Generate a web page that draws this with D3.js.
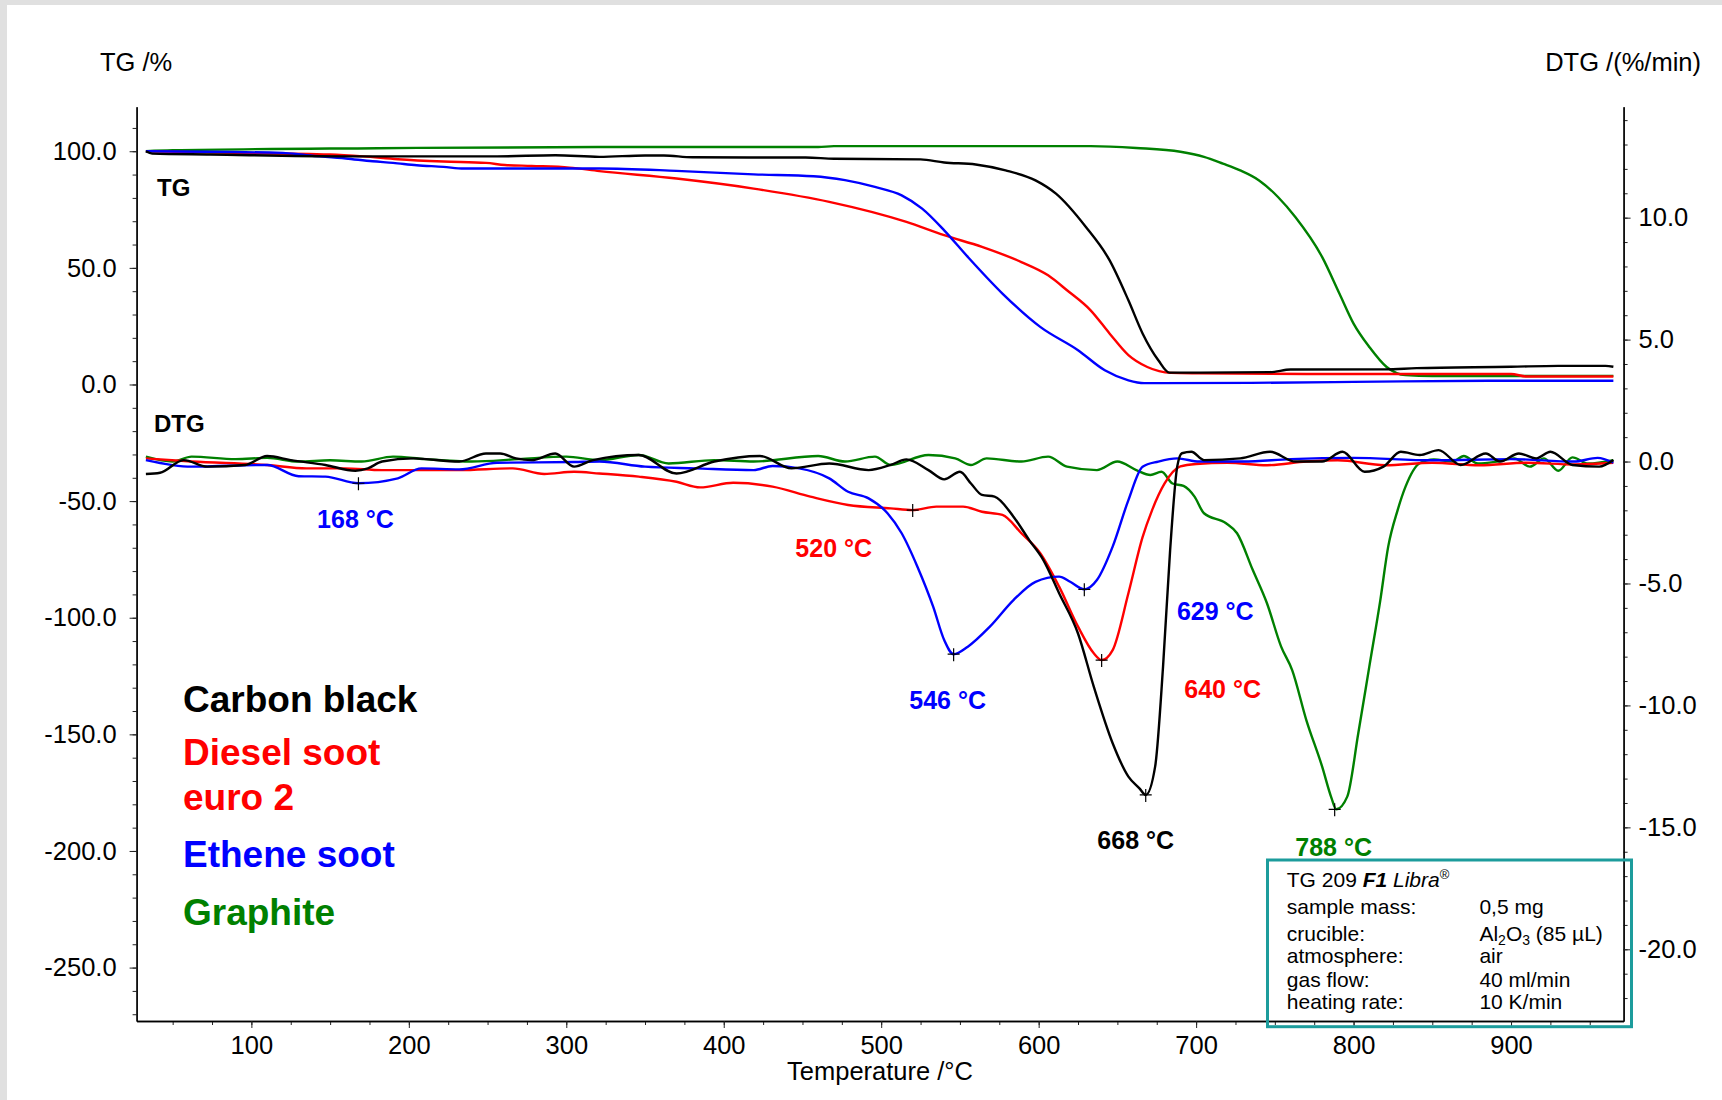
<!DOCTYPE html>
<html>
<head>
<meta charset="utf-8">
<script src="https://cdn.jsdelivr.net/npm/d3@7"></script>
<style>
  html, body { margin: 0; padding: 0; background: #e0e0e0; }
  svg { display: block; }
  text { font-family: "Liberation Sans", Arial, sans-serif; }
</style>
</head>
<body>
<div class="chart-container"></div>
<script>
//! DATA  (temperature °C, value)
const tgCarbon = [[33,100],[37,99],[74,98.6],[159,97.8],[256,97.8],[293,98.3],[321,97.6],[350,98.2],[362,98.2],[380,97.4],[452,97.3],[470,96.8],[525,96.5],[540,95.2],[560,94.3],[579,91.8],[598,87.5],[611,81.8],[630,67.5],[645,53.3],[657,36.1],[666,21.9],[676,10.4],[683,5.1],[700,5.1],[747,5.3],[760,6.4],[820,6.5],[840,7.0],[900,7.6],[930,8.0],[960,8.0],[965,7.6]];
const tgDiesel = [[33,100],[80,99.4],[150,98.6],[171,97.8],[193,96.6],[222,95.6],[249,95.0],[261,94.1],[278,93.7],[302,93.0],[321,91.5],[370,88.3],[419,84.0],[467,78.3],[516,69.7],[540,64.0],[564,59.0],[589,52.5],[606,46.8],[618,40.4],[633,31.8],[645,21.9],[657,12.6],[669,7.5],[684,5.0],[702,4.8],[770,4.5],[900,4.5],[910,3.4],[965,3.4]];
const tgEthene = [[33,100],[120,99.3],[135,98.3],[160,96.9],[177,95.7],[190,95.0],[205,94.0],[222,93.3],[235,92.6],[321,92.6],[370,91.6],[419,90.1],[457,89.3],[477,87.6],[496,84.7],[513,81.1],[526,75.4],[540,66.1],[555,54.7],[577,39.0],[601,24.7],[625,14.7],[642,6.1],[657,1.8],[667,0.6],[735,0.7],[800,1.1],[890,1.6],[965,1.6]];
const tgGraphite = [[33,100],[50,100.4],[180,101.3],[321,101.8],[460,101.8],[470,102.2],[633,102.2],[662,101.4],[690,99.8],[705,97.6],[717,94.7],[728,91.8],[740,87.5],[752,80.4],[763,71.8],[780,54.7],[791,39.0],[800,26.1],[810,16.1],[821,7.5],[833,4.0],[850,3.6],[965,3.7]];

const dtgCarbon = [[33,-0.51],[42,-0.46],[57,0.06],[72,-0.21],[96,-0.14],[110,0.23],[125,0.06],[147,-0.14],[166,-0.38],[174,-0.28],[183,0.0],[203,0.13],[232,0.0],[249,0.33],[258,0.33],[268,0.13],[278,0.06],[293,0.33],[305,-0.21],[317,0.06],[346,0.27],[370,-0.49],[394,0.0],[423,0.23],[443,-0.28],[467,-0.08],[492,-0.35],[506,-0.14],[516,0.09],[530,-0.35],[540,-0.73],[550,-0.42],[557,-0.9],[564,-1.37],[572,-1.44],[584,-2.26],[594,-3.22],[603,-4.04],[613,-5.4],[625,-7.05],[635,-9.23],[647,-11.55],[657,-12.92],[664,-13.4],[668,-13.67],[674,-12.5],[679,-8.41],[683.5,-3.63],[688,-0.21],[691,0.34],[697,0.4],[705,0.06],[728,0.13],[747,0.4],[763,0.0],[780,0.0],[793,0.4],[807,-0.42],[819,-0.21],[830,0.4],[842,0.27],[854,0.47],[868,-0.14],[884,0.33],[893,0.0],[905,0.33],[916,0.13],[925,0.4],[939,-0.14],[956,-0.21],[965,0.06]];
const dtgDiesel = [[33,0.13],[62,0.0],[110,-0.14],[135,-0.28],[159,-0.28],[183,-0.35],[232,-0.35],[266,-0.28],[286,-0.51],[305,-0.42],[321,-0.49],[346,-0.62],[370,-0.83],[385,-1.06],[406,-0.87],[431,-1.03],[455,-1.44],[479,-1.78],[506,-1.92],[520,-1.99],[535,-1.85],[552,-1.85],[564,-2.06],[577,-2.19],[589,-2.94],[601,-3.76],[613,-5.13],[625,-6.77],[635,-7.86],[640,-8.14],[647,-7.73],[657,-5.4],[666,-3.1],[672,-2.0],[680,-0.9],[690,-0.2],[700,-0.1],[720,-0.05],[745,-0.15],[770,0.0],[790,0.05],[820,-0.15],[850,-0.05],[880,-0.15],[910,-0.05],[940,-0.12],[965,-0.05]];
const dtgEthene = [[33,0.06],[62,-0.21],[110,-0.14],[130,-0.6],[147,-0.62],[168,-0.89],[193,-0.69],[208,-0.28],[232,-0.32],[256,-0.05],[305,-0.02],[321,0.0],[350,-0.21],[382,-0.28],[419,-0.35],[431,-0.18],[448,-0.28],[467,-0.69],[479,-1.24],[492,-1.51],[504,-2.12],[513,-2.94],[523,-4.31],[533,-5.95],[540,-7.32],[546,-7.9],[555,-7.59],[569,-6.77],[584,-5.68],[598,-4.93],[613,-4.72],[620,-4.93],[629,-5.24],[637,-4.86],[647,-3.49],[657,-1.58],[666,-0.21],[676,0.0],[688,0.13],[702,0.0],[730,0.0],[760,0.1],[800,0.15],[850,0.05],[900,0.1],[940,0.0],[955,0.15],[965,-0.05]];
const dtgGraphite = [[33,0.2],[50,0.0],[62,0.2],[90,0.1],[110,0.15],[130,0.0],[150,0.05],[170,0.0],[190,0.2],[210,0.1],[240,0.0],[270,0.1],[300,0.2],[321,0.06],[346,0.27],[365,-0.08],[394,0.06],[419,0.0],[460,0.23],[477,0.0],[496,0.2],[506,-0.14],[530,0.27],[547,0.13],[557,-0.14],[567,0.13],[589,0.0],[606,0.2],[618,-0.21],[637,-0.35],[650,0.0],[662,-0.35],[671,-0.55],[678,-0.42],[685,-0.9],[692,-1.0],[699,-1.44],[705,-2.12],[719,-2.53],[726,-2.94],[736,-4.45],[745,-5.81],[754,-7.59],[761,-8.55],[770,-10.6],[780,-12.5],[786,-13.8],[789,-14.26],[796,-13.74],[803,-11.14],[810,-8.41],[817,-5.68],[822,-3.49],[828,-1.99],[833,-1.03],[842,-0.07],[851,0.09],[863,0.0],[870,0.23],[879,-0.08],[891,0.0],[902,0.13],[912,-0.21],[921,0.13],[930,-0.38],[939,0.17],[949,-0.08],[965,0.06]];

// DTG peaks
const peakTemps = [168, 520, 546, 629, 640, 668, 788];
const peakValues = [-0.89, -1.99, -7.9, -5.24, -8.14, -13.67, -14.26];
const peakSeries = ['ethene', 'diesel', 'ethene', 'ethene', 'diesel', 'carbon', 'graphite'];

const legendNames = ['Carbon black', 'Diesel soot', 'euro 2', 'Ethene soot', 'Graphite'];
const legendSeries = ['carbon', 'diesel', 'diesel', 'ethene', 'graphite'];

const xTicks = [100, 200, 300, 400, 500, 600, 700, 800, 900];
const tgTicks = [100, 50, 0, -50, -100, -150, -200, -250];
const dtgTicks = [10, 5, 0, -5, -10, -15, -20];

const infoLabels = ['sample mass:', 'crucible:', 'atmosphere:', 'gas flow:', 'heating rate:'];
const infoValues = ['0,5 mg', 'Al2O3 (85 µL)', 'air', '40 ml/min', '10 K/min'];

//! CONSTS
const width = 1722;
const height = 1100;
const plotLeft = 136.6, plotRight = 1623.6, plotTop = 106.7, plotBottom = 1021;
const colors = { carbon: '#000000', diesel: '#ff0000', ethene: '#0000ff', graphite: '#008000' };
const font = '"Liberation Sans", Arial, sans-serif';
const fmt = (d) => d.toFixed(1); // plain hyphen minus, as in the original

//! SVG
const svg = d3.select('.chart-container')
  .append('svg')
  .attr('width', width)
  .attr('height', height);

svg.append('rect')
  .attr('x', 7).attr('y', 5)
  .attr('width', width - 7).attr('height', height - 5)
  .attr('fill', '#fff');

//! SCALES
const xScale = d3.scaleLinear().domain([27.1, 971.5]).range([plotLeft, plotRight]);
const yTG = d3.scaleLinear().domain([-272.9, 119.1]).range([plotBottom, plotTop]);
const yDTG = d3.scaleLinear().domain([-22.94, 14.55]).range([plotBottom, plotTop]);

//! AXES
const styleAxis = (g) => {
  g.selectAll('path.domain').attr('stroke', '#000').attr('stroke-width', 1.3);
  g.selectAll('.tick line').attr('stroke', '#222').attr('stroke-width', 1);
  g.selectAll('text').attr('font-family', font).attr('font-size', 25.5).attr('fill', '#000');
};

// minor ticks first
svg.append('g')
  .attr('transform', `translate(0,${plotBottom})`)
  .call(d3.axisBottom(xScale).tickValues(d3.range(50, 971, 25)).tickSize(4).tickSizeOuter(0).tickFormat(''))
  .call(styleAxis);
svg.append('g')
  .attr('transform', `translate(${plotLeft},0)`)
  .call(d3.axisLeft(yTG).tickValues(d3.range(-270, 111, 10)).tickSize(4).tickSizeOuter(0).tickFormat(''))
  .call(styleAxis);
svg.append('g')
  .attr('transform', `translate(${plotRight},0)`)
  .call(d3.axisRight(yDTG).tickValues(d3.range(-22, 15, 1)).tickSize(4).tickSizeOuter(0).tickFormat(''))
  .call(styleAxis);

svg.append('g')
  .attr('id', 'x-axis')
  .attr('transform', `translate(0,${plotBottom})`)
  .call(d3.axisBottom(xScale).tickValues(xTicks).tickSize(7).tickPadding(8).tickSizeOuter(0))
  .call(styleAxis);

svg.append('g')
  .attr('id', 'y-axis')
  .attr('transform', `translate(${plotLeft},0)`)
  .call(d3.axisLeft(yTG).tickValues(tgTicks).tickSize(7).tickPadding(13).tickSizeOuter(0).tickFormat(fmt))
  .call(styleAxis);

svg.append('g')
  .attr('id', 'y2-axis')
  .attr('transform', `translate(${plotRight},0)`)
  .call(d3.axisRight(yDTG).tickValues(dtgTicks).tickSize(7).tickPadding(8).tickSizeOuter(0).tickFormat(fmt))
  .call(styleAxis);

//! AXIS TITLES
const addText = (x, y, txt, opts = {}) => svg.append('text')
  .attr('x', x).attr('y', y)
  .attr('font-family', font)
  .attr('font-size', opts.size || 25.5)
  .attr('font-weight', opts.weight || 'normal')
  .attr('text-anchor', opts.anchor || 'start')
  .attr('fill', opts.color || '#000')
  .text(txt);

addText(100, 70.7, 'TG /%');
addText(1701, 70.7, 'DTG /(%/min)', { anchor: 'end' });
addText(880, 1080, 'Temperature /°C', { anchor: 'middle' });
addText(157, 196, 'TG', { size: 24, weight: 'bold' });
addText(154, 432.3, 'DTG', { size: 24, weight: 'bold' });

//! CURVES
svg.append('clipPath').attr('id', 'plot-clip')
  .append('rect')
  .attr('x', plotLeft).attr('y', plotTop)
  .attr('width', plotRight - plotLeft).attr('height', plotBottom - plotTop);

const plot = svg.append('g').attr('clip-path', 'url(#plot-clip)');

const tgLine = d3.line().x((d) => xScale(d[0])).y((d) => yTG(d[1])).curve(d3.curveMonotoneX);
const dtgLine = d3.line().x((d) => xScale(d[0])).y((d) => yDTG(d[1])).curve(d3.curveMonotoneX);

const curves = [
  [tgGraphite, tgLine, 'graphite'], [tgDiesel, tgLine, 'diesel'], [tgEthene, tgLine, 'ethene'], [tgCarbon, tgLine, 'carbon'],
  [dtgGraphite, dtgLine, 'graphite'], [dtgDiesel, dtgLine, 'diesel'], [dtgEthene, dtgLine, 'ethene'], [dtgCarbon, dtgLine, 'carbon']
];

plot.selectAll('path.curve')
  .data(curves)
  .enter()
  .append('path')
  .attr('class', 'curve')
  .attr('d', (d) => d[1](d[0]))
  .attr('fill', 'none')
  .attr('stroke', (d) => colors[d[2]])
  .attr('stroke-width', 2.4)
  .attr('stroke-linejoin', 'round');

//! PEAKS
const peaks = peakTemps.map((t, i) => ({ t, v: peakValues[i], s: peakSeries[i] }));
// label offsets from the cross, px
const labelOffset = [[-3, 45], [-79, 47], [-6, 55], [131, 31], [121, 38], [-10, 54], [-1, 47]];

svg.selectAll('path.cross')
  .data(peaks)
  .enter()
  .append('path')
  .attr('class', 'cross')
  .attr('d', (d) => {
    const x = xScale(d.t), y = yDTG(d.v);
    return `M${x - 6},${y}H${x + 6}M${x},${y - 6}V${y + 7}`;
  })
  .attr('stroke', '#000')
  .attr('stroke-width', 1.2)
  .attr('fill', 'none');

svg.selectAll('text.peak')
  .data(peaks)
  .enter()
  .append('text')
  .attr('class', 'peak')
  .attr('x', (d, i) => xScale(d.t) + labelOffset[i][0])
  .attr('y', (d, i) => yDTG(d.v) + labelOffset[i][1])
  .attr('text-anchor', 'middle')
  .attr('font-family', font)
  .attr('font-weight', 'bold')
  .attr('font-size', 25)
  .attr('fill', (d) => colors[d.s])
  .text((d) => `${d.t} °C`);

//! LEGEND
const legendY = [712.3, 765, 810, 866.7, 925];
svg.selectAll('text.legend')
  .data(legendNames)
  .enter()
  .append('text')
  .attr('class', 'legend')
  .attr('x', 183)
  .attr('y', (d, i) => legendY[i])
  .attr('font-family', font)
  .attr('font-weight', 'bold')
  .attr('font-size', 37)
  .attr('fill', (d, i) => colors[legendSeries[i]])
  .text((d) => d);

//! INFO BOX
svg.append('rect')
  .attr('x', 1267.5).attr('y', 860)
  .attr('width', 364).attr('height', 166.7)
  .attr('fill', 'none')
  .attr('stroke', '#1c9c9c')
  .attr('stroke-width', 3);

const title = svg.append('text')
  .attr('x', 1286.8).attr('y', 887.3)
  .attr('font-family', font).attr('font-size', 21);
title.append('tspan').text('TG 209 ');
title.append('tspan').attr('font-weight', 'bold').attr('font-style', 'italic').text('F1');
title.append('tspan').attr('font-style', 'italic').text(' Libra');
title.append('tspan').attr('font-size', 13).attr('dy', -8).text('®');

const infoY = [914.3, 940.7, 963.3, 986.7, 1009.3];
infoLabels.forEach((lab, i) => {
  addText(1286.8, infoY[i], lab, { size: 21 });
  if (infoValues[i].startsWith('Al2O3')) {
    const t = svg.append('text')
      .attr('x', 1479.4).attr('y', infoY[i])
      .attr('font-family', font).attr('font-size', 21);
    t.append('tspan').text('Al');
    t.append('tspan').attr('font-size', 14).attr('dy', 4).text('2');
    t.append('tspan').attr('dy', -4).text('O');
    t.append('tspan').attr('font-size', 14).attr('dy', 4).text('3');
    t.append('tspan').attr('dy', -4).text(' (85 µL)');
  } else {
    addText(1479.4, infoY[i], infoValues[i], { size: 21 });
  }
});
</script>
</body>
</html>
